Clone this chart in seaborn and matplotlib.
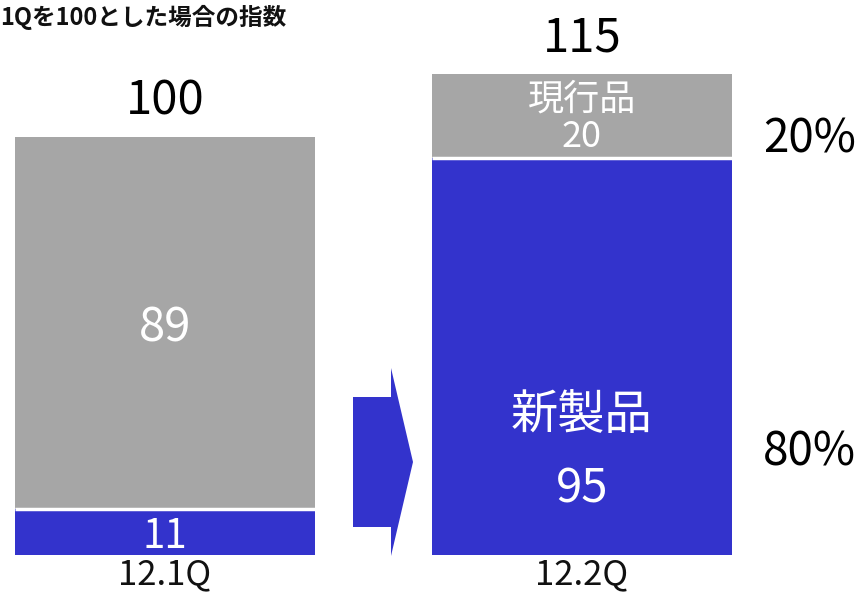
import matplotlib
matplotlib.use("Agg")
import matplotlib.pyplot as plt
from matplotlib.patches import Polygon
import seaborn as sns

# Quarterly index (12.1Q = 100), split into new and current products
categories = ["12.1Q", "12.2Q"]
new_products = [11, 95]
current_products = [89, 20]
totals = [100, 115]
share_labels = ["20%", "80%"]          # right bar: current / new share
segment_names = ["現行品", "新製品"]
title_text = "1Qを100とした場合の指数"

BLUE = "#3333CC"
GRAY = "#A6A6A6"

sns.set_style("white")
plt.rcParams["font.family"] = ["Noto Sans CJK JP", "DejaVu Sans"]

W, H = 864, 603
fig = plt.figure(figsize=(W / 100, H / 100), dpi=100)
base_px = 555          # baseline position from the top, in pixels
top_px = 74            # top of the tallest bar
ax = fig.add_axes([0, (H - base_px) / H, 1, base_px / H])

scale = (base_px - top_px) / max(totals)
ax.set_ylim(0, max(totals) + top_px / scale)

# stacked bars: full total in gray, new-product part in blue over it
sns.barplot(x=categories, y=totals, color=GRAY, saturation=1, width=0.72,
            errorbar=None, linewidth=0, ax=ax)
n_gray = len(ax.patches)
sns.barplot(x=categories, y=new_products, color=BLUE, saturation=1, width=0.72,
            errorbar=None, linewidth=0, ax=ax)

# thin white seam where the two segments meet
for p in ax.patches[n_gray:]:
    ax.plot([p.get_x(), p.get_x() + p.get_width()], [p.get_height()] * 2,
            color="white", lw=2.5, solid_capstyle="butt")

ax.set_xlim(-165 / 417, (W - 165) / 417)
sns.despine(ax=ax, left=True, bottom=True)
ax.set_yticks([])
ax.set_xlabel("")
ax.set_ylabel("")
ax.tick_params(axis="x", length=0, pad=2, labelsize=25, labelcolor="#111111")

lab = dict(ha="center", va="center_baseline", color="white")

# left bar labels
ax.text(0, new_products[0] / 2, str(new_products[0]), fontsize=29, **lab)
ax.text(0, new_products[0] + current_products[0] / 2, str(current_products[0]),
        fontsize=34, **lab)

# right bar labels
g0, g1 = new_products[1], totals[1]
y_name_cur = g0 + (g1 - g0) * 0.74
y_val_cur = g0 + (g1 - g0) * 0.29
ax.text(1, y_name_cur, segment_names[0], fontsize=26, **lab)
ax.text(1, y_val_cur, str(current_products[1]), fontsize=26, **lab)
y_name_new = new_products[1] * 0.365
y_val_new = new_products[1] * 0.18
ax.text(1, y_name_new, segment_names[1], fontsize=34, **lab)
ax.text(1, y_val_new, str(new_products[1]), fontsize=34, **lab)

# totals above bars
for i, t in enumerate(totals):
    ax.annotate(str(t), (i, t), xytext=(0, 8), textcoords="offset points",
                ha="center", va="bottom", fontsize=34, color="black")

# share of each segment in the second quarter, to the right of the bar
ax.text(1.545, y_val_cur, share_labels[0], ha="center", va="center_baseline",
        fontsize=33, color="black")
ax.text(1.545, (y_name_new + y_val_new) / 2, share_labels[1], ha="center",
        va="center_baseline", fontsize=33, color="black")

# block arrow between the two bars
pts_px = [(353, 397), (391, 397), (391, 368), (413, 462),
          (391, 556), (391, 527), (353, 527)]
arrow = Polygon([(x / W, 1 - y / H) for x, y in pts_px], closed=True,
                facecolor=BLUE, edgecolor="none", transform=fig.transFigure)
fig.patches.append(arrow)

fig.text(0.0, 1 - 17 / H, title_text, ha="left", va="center",
         fontsize=17, fontweight="bold", color="#111111")

fig.savefig("out.png", dpi=100)
